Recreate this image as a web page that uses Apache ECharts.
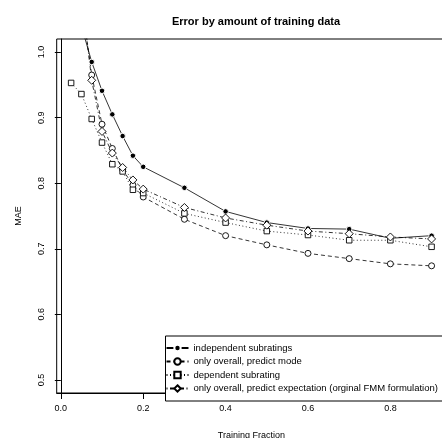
<!DOCTYPE html>
<html>
<head>
<meta charset="utf-8">
<script src="https://cdn.jsdelivr.net/npm/echarts@6/dist/echarts.min.js"></script>
<style>
  html, body { margin: 0; padding: 0; background: #fff; }
  #chart { width: 442px; height: 438px; }
</style>
</head>
<body>
<div id="chart"></div>
<script>
// training fractions (x) and MAE per method
const fractions = [0.025, 0.05, 0.075, 0.1, 0.125, 0.15, 0.175, 0.2, 0.3, 0.4, 0.5, 0.6, 0.7, 0.8, 0.9];
const independentSub = [null, 1.04, 0.985, 0.941, 0.905, 0.872, 0.842, 0.825, 0.793, 0.757, 0.740, 0.731, 0.730, 0.716, 0.720];
const overallMode = [null, 1.08, 0.965, 0.890, 0.853, 0.821, 0.797, 0.779, 0.745, 0.720, 0.706, 0.693, 0.685, 0.677, 0.674];
const dependentSub = [0.953, 0.936, 0.898, 0.862, 0.829, 0.818, 0.790, 0.785, 0.754, 0.740, 0.727, 0.721, 0.713, 0.713, 0.703];
const overallExpect = [null, 1.09, 0.957, 0.879, 0.846, 0.824, 0.805, 0.791, 0.763, 0.747, 0.736, 0.727, 0.723, 0.718, 0.715];
const seriesNames = [
  'independent subratings',
  'only overall, predict mode',
  'dependent subrating',
  'only overall, predict expectation (orginal FMM formulation)'
];
const xTicks = [0.0, 0.2, 0.4, 0.6, 0.8];
const yTicks = [0.5, 0.6, 0.7, 0.8, 0.9, 1.0];

const FONT = '"Liberation Sans", Arial, Helvetica, sans-serif';

function pairs(ys) {
  return fractions.map((x, i) => [x, ys[i]]).filter(d => d[1] != null);
}

function mkSeries(name, ys, symbol, size, dash, filled) {
  return {
    name: name,
    type: 'line',
    data: pairs(ys),
    symbol: symbol,
    symbolSize: size,
    clip: true,
    lineStyle: { color: '#000', width: 0.8, type: dash },
    itemStyle: {
      color: filled ? '#000' : '#fff',
      borderColor: filled ? '#fff' : '#000',
      borderWidth: filled ? 1 : 0.9
    },
    emphasis: { disabled: true }
  };
}

const chart = echarts.init(document.getElementById('chart'), null, { renderer: 'canvas' });

const option = {
  animation: false,
  backgroundColor: '#fff',
  title: {
    text: 'Error by amount of training data',
    left: 251,
    top: 11,
    textAlign: 'center',
    textStyle: { fontFamily: FONT, fontSize: 11, fontWeight: 'bold', color: '#000' }
  },
  // plot box runs slightly past the right edge, like the cropped original
  grid: {
    left: 56.7, top: 39, width: 389.3, height: 354,
    show: true, borderColor: '#000', borderWidth: 1,
    containLabel: false, outerBoundsMode: 'none'
  },
  legend: {
    data: seriesNames,
    orient: 'vertical',
    left: 165.5,
    top: 336,
    padding: [7, 6, 7.5, 0],
    itemWidth: 22,
    itemHeight: 8,
    itemGap: 3.5,
    borderColor: '#000',
    borderWidth: 1,
    borderRadius: 0,
    backgroundColor: '#fff',
    textStyle: { fontFamily: FONT, fontSize: 9.5, color: '#000' }
  },
  xAxis: {
    type: 'value',
    min: -0.01,
    max: 0.935,
    name: 'Training Fraction',
    nameLocation: 'middle',
    nameGap: 38,
    nameTextStyle: { fontFamily: FONT, fontSize: 9, color: '#000' },
    axisLine: { show: true, lineStyle: { color: '#000', width: 1 } },
    axisTick: { show: true, length: 6, customValues: xTicks, lineStyle: { color: '#000' } },
    axisLabel: {
      customValues: xTicks, margin: 11,
      fontFamily: FONT, fontSize: 9, color: '#000',
      formatter: v => v.toFixed(1)
    },
    splitLine: { show: false }
  },
  yAxis: {
    type: 'value',
    min: 0.48,
    max: 1.02,
    name: 'MAE',
    nameLocation: 'middle',
    nameGap: 34,
    nameTextStyle: { fontFamily: FONT, fontSize: 9, color: '#000' },
    axisLine: { show: true, lineStyle: { color: '#000', width: 1 } },
    axisTick: { show: true, length: 6, customValues: yTicks, lineStyle: { color: '#000' } },
    axisLabel: {
      customValues: yTicks, margin: 11, rotate: 90,
      fontFamily: FONT, fontSize: 9, color: '#000',
      formatter: v => v.toFixed(1)
    },
    splitLine: { show: false }
  },
  series: [
    mkSeries(seriesNames[0], independentSub, 'circle', 5.5, 'solid', true),
    mkSeries(seriesNames[1], overallMode, 'circle', 6, [4, 3], false),
    mkSeries(seriesNames[2], dependentSub, 'rect', 5.5, [1, 2.5], false),
    mkSeries(seriesNames[3], overallExpect, 'diamond', 8, [1, 2.5, 4, 2.5], false)
  ]
};

chart.setOption(option);
</script>
</body>
</html>
